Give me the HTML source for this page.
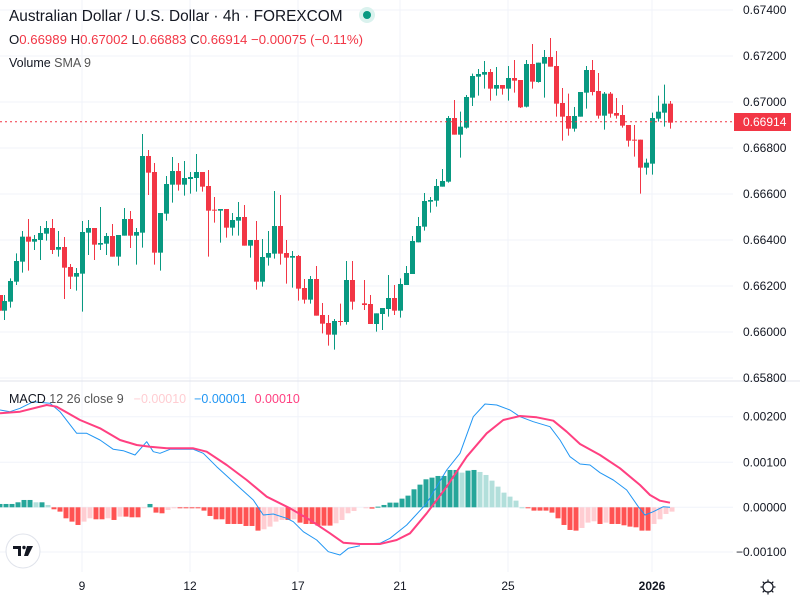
<!DOCTYPE html>
<html><head><meta charset="utf-8">
<style>
html,body{margin:0;padding:0;background:#fff;width:800px;height:600px;overflow:hidden}
svg{display:block}
text{font-family:"Liberation Sans",sans-serif}
</style></head>
<body>
<svg id="s" width="800" height="600" xmlns="http://www.w3.org/2000/svg"></svg>
<script>
const s=document.getElementById('s');let h='';
const G='#089981',R='#f23645';
[10,56,102,148,194,240,286,332,378].forEach(y=>h+=`<line x1="0" x2="733" y1="${y}" y2="${y}" stroke="#f0f3fa" stroke-width="1"/>`);
[416.7,462.3,507.3,552].forEach(y=>h+=`<line x1="0" x2="733" y1="${y}" y2="${y}" stroke="#f0f3fa" stroke-width="1"/>`);
[82,190,298,400,508,652].forEach(x=>h+=`<line x1="${x}" x2="${x}" y1="0" y2="572" stroke="#f0f3fa" stroke-width="1"/>`);
h+=`<line x1="0" x2="800" y1="381" y2="381" stroke="#e0e3eb" stroke-width="1"/>`;
const c2=[[0,0,525,572,525,572],[13,1,543,572,525,600],[31,1,483,545,475,563],[49,1,423,485,400,495],[67,1,350,425,333,458],[85,0,350,365,297,452],[103,1,357,365,345,390],[121,1,339,360,318,420],[139,1,324,341,303,362],[157,0,324,390,297,402],[175,1,381,389,333,410],[193,0,381,443,351,537],[211,0,441,470,432,507],[229,1,459,470,444,512],[247,1,336,461,303,575],[265,1,324,338,300,405],[283,0,324,374,324,420],[301,1,369,374,261,390],[319,1,348,371,339,405],[337,0,348,410,312,410],[355,1,345,410,345,437],[373,1,297,347,264,347],[391,0,297,347,273,384],[409,1,336,347,324,434],[427,1,108,338,42,383],[445,0,108,158,90,225],[463,0,156,398,129,434],[481,1,279,398,279,452],[499,1,192,281,168,302],[517,1,153,194,111,248],[535,0,153,194,129,212],[553,1,174,194,123,227],[571,1,171,177,156,221],[589,1,156,174,102,215],[607,0,156,200,156,215],[625,0,198,272,150,410],[643,0,269,272,231,308],[661,1,267,272,267,368],[679,0,267,323,267,353],[697,1,300,323,279,347],[715,1,291,302,246,347],[733,0,291,377,255,377],[751,1,360,377,360,413],[769,0,360,485,303,509],[787,1,411,485,357,500],[805,1,399,413,333,437],[823,1,318,401,213,416],[841,0,318,401,225,434],[859,0,399,413,360,491],[877,1,408,413,393,503],[895,0,408,506,405,542],[913,0,504,539,477,551],[931,1,477,539,468,551],[949,0,477,587,438,587],[967,0,585,611,549,640],[985,0,609,644,585,677],[1003,1,603,644,597,689],[1021,0,603,606,551,617],[1039,1,480,606,423,614],[1057,0,480,545,423,569]];
const c3=[[0,0,815,822,815,822],[13,0,820,825,750,840],[31,0,822,882,795,882],[49,1,850,882,850,905],[67,1,834,852,834,900],[85,1,804,837,735,860],[103,0,804,842,765,855],[121,1,762,842,745,863],[139,1,729,765,708,765],[157,1,633,732,618,732],[175,1,588,637,561,637],[193,1,513,590,489,602],[211,1,510,515,501,548],[229,1,468,512,447,530],[247,1,453,470,417,470],[265,1,264,455,258,458],[283,0,264,314,210,314],[301,1,290,314,245,383],[319,1,201,293,195,296],[337,1,138,203,131,228],[355,1,132,140,117,197],[373,1,126,134,93,176],[391,0,126,176,117,212],[409,1,165,176,111,197],[427,0,165,176,165,194],[445,1,144,176,108,212],[463,0,144,152,90,188],[481,0,150,232,150,234],[499,1,102,230,90,232],[517,0,102,155,42,176],[535,1,98,156,98,158],[553,1,81,101,60,203],[571,0,81,110,24,110],[589,0,108,221,63,260],[607,0,219,260,174,332],[625,0,258,296,191,317],[643,1,258,296,231,305],[661,1,186,260,186,260],[679,1,120,188,108,236],[697,0,120,186,90,196],[715,0,183,257,129,266],[733,1,191,257,186,299],[751,0,191,251,186,263],[769,0,249,257,204,266],[787,0,255,287,225,293],[805,0,285,332,285,350],[823,0,329,332,285,380],[841,0,329,413,329,491],[859,1,398,413,386,434],[877,1,264,401,248,434],[895,1,245,266,197,275],[913,1,221,248,164,290],[931,0,221,278,213,296]];
function cd(x,c,bt,bb,wt,wb){const col=c?G:R;h+=`<line x1="${x}" x2="${x}" y1="${wt}" y2="${wb}" stroke="${col}" stroke-width="1"/>`;h+=`<rect x="${x-2.5}" y="${bt}" width="5" height="${Math.max(1,bb-bt)}" fill="${col}"/>`;}
c2.forEach(a=>cd(Math.round(a[0]/3)+0.5,a[1],120+a[2]/3,120+a[3]/3,120+a[4]/3,120+a[5]/3));
c3.forEach((a,i)=>{if(i==0)return;cd(Math.round(360+a[0]/3)+0.5,a[1],30+a[2]/3,30+a[3]/3,30+a[4]/3,30+a[5]/3)});
h+=`<line x1="0" x2="733" y1="121.8" y2="121.8" stroke="${R}" stroke-width="1" stroke-dasharray="2,3"/>`;
const hz4=[372,372,372,367,360,360,367,367,375,388,395,415,425,435,425,415,418,418,415,420,410,410,412,412,385,372,398,400,390,384,384,384,384,384,392,408,418,418,432,432,432,438,438,452,448,440,425,420,420,418,428,432,432,437,437,437,430,420,400,393];
const hz5=[385,386,380,375,368,368,356,347,328,314,298,293,288,288,270,270,278,272,270,276,285,302,320,338,350,362,382,384,392,392,392,398,415,435,450,452,444,428,424,432,428,432,432,436,440,442,452,452,432,418,402,395];
const hv=[];hz4.forEach((z,i)=>hv.push([i*6,382-z]));hz5.forEach((z,i)=>hv.push([672-6*(51-i),382-z]));
let prev=0;hv.forEach(([x,v])=>{let col;if(v>=0)col=v>=prev?'#26a69a':'#b2dfdb';else col=v<=prev?'#ff5252':'#ffcdd2';prev=v;
const y=507.3-v/3;const t=Math.min(y,507.3),hh=Math.max(1,Math.abs(v/3));h+=`<rect x="${x-2.5}" y="${t}" width="5" height="${hh}" fill="${col}"/>`;});
function pl(pts,ox,col,w){return `<polyline fill="none" stroke="${col}" stroke-width="${w}" stroke-linejoin="round" points="${pts.map(p=>(ox+p[0]/3).toFixed(1)+','+(380+p[1]/3).toFixed(1)).join(' ')}"/>`;}
const b4=[[0,90],[30,95],[60,85],[100,65],[150,70],[180,95],[230,160],[260,160],[300,180],[340,208],[370,212],[405,225],[440,185],[460,215],[480,220],[510,208],[580,208],[610,220],[650,260],[710,315],[760,360],[790,405],[820,402],[860,415],[880,425],[910,455],[950,480],[985,515],[1020,525],[1045,505],[1080,497]];
const b5=[[0,492],[60,490],[90,475],[140,435],[200,370],[260,270],[300,220],[340,110],[375,72],[410,75],[450,90],[480,110],[520,125],[570,140],[600,180],[630,230],[660,252],[690,255],[720,278],[760,300],[800,330],[835,380],[855,405],[880,395],[910,380],[930,382]];
const r4=[[0,100],[60,95],[140,75],[170,80],[240,120],[300,145],[360,180],[410,195],[450,200],[500,205],[580,205],[620,215],[680,255],[740,300],[800,350],[870,385],[930,420],[990,460],[1030,488],[1080,492]];
const r5=[[0,492],[60,492],[110,480],[150,460],[200,400],[260,320],[320,230],[380,160],[430,120],[480,108],[530,112],[580,122],[620,155],[660,192],[720,225],[780,265],[840,315],[870,345],[900,362],[930,368]];
h+=pl(b4,0,'#2196f3',1)+pl(b5,360,'#2196f3',1)+pl(r4,0,'#ff4081',2)+pl(r5,360,'#ff4081',2);
[['0.67400',10],['0.67200',56],['0.67000',102],['0.66800',148],['0.66600',194],['0.66400',240],['0.66200',286],['0.66000',332],['0.65800',378],['0.00200',416.7],['0.00100',462.3],['0.00000',507.3],['\u22120.00100',552]].forEach(([t,y])=>h+=`<text x="${t[0]=='\u2212'?736:743}" y="${y+4}" font-size="12" fill="#131722">${t}</text>`);
h+=`<rect x="734" y="113" width="57" height="18" fill="${R}"/><text x="743" y="126" font-size="12" fill="#fff">0.66914</text>`;
[['9',82],['12',190],['17',298],['21',400],['25',508]].forEach(([t,x])=>h+=`<text x="${x}" y="590" font-size="12" fill="#131722" text-anchor="middle">${t}</text>`);
h+=`<text x="652" y="590" font-size="12" fill="#131722" text-anchor="middle" font-weight="bold">2026</text>`;
h+=`<circle cx="768" cy="587" r="5" fill="none" stroke="#131722" stroke-width="1.2"/>`;
for(let i=0;i<8;i++){const a=i*Math.PI/4;h+=`<line x1="${768+5*Math.cos(a)}" y1="${587+5*Math.sin(a)}" x2="${768+7.5*Math.cos(a)}" y2="${587+7.5*Math.sin(a)}" stroke="#131722" stroke-width="1.2"/>`;}
h+=`<circle cx="23" cy="551" r="17" fill="#fff" stroke="#e0e3eb" stroke-width="1"/>`;
h+=`<path d="M13 546h8v10h-3v-7h-5z" fill="#131722"/><circle cx="24" cy="547.5" r="1.7" fill="#131722"/><path d="M27 546h6l-5 10h-4z" fill="#131722"/>`;
h+=`<text x="9" y="21" font-size="15.4" fill="#131722">Australian Dollar / U.S. Dollar · 4h · FOREXCOM</text>`;
h+=`<circle cx="367" cy="15" r="8" fill="#daf2ee"/><circle cx="367" cy="15" r="4" fill="#089981"/>`;
h+=`<text x="9" y="44" font-size="13.2" fill="${R}"><tspan fill="#131722">O</tspan>0.66989 <tspan fill="#131722">H</tspan>0.67002 <tspan fill="#131722">L</tspan>0.66883 <tspan fill="#131722">C</tspan>0.66914 −0.00075 (−0.11%)</text>`;
h+=`<text x="9" y="67" font-size="12.5" fill="#131722">Volume <tspan fill="#555">SMA 9</tspan></text>`;
h+=`<text x="9" y="403" font-size="12.5" fill="#131722">MACD <tspan fill="#555">12 26 close 9</tspan><tspan fill="#ffcdd2" dx="10">−0.00010</tspan><tspan fill="#2196f3" dx="8">−0.00001</tspan><tspan fill="#ff4081" dx="8">0.00010</tspan></text>`;
s.innerHTML=h;
</script>
</body></html>
